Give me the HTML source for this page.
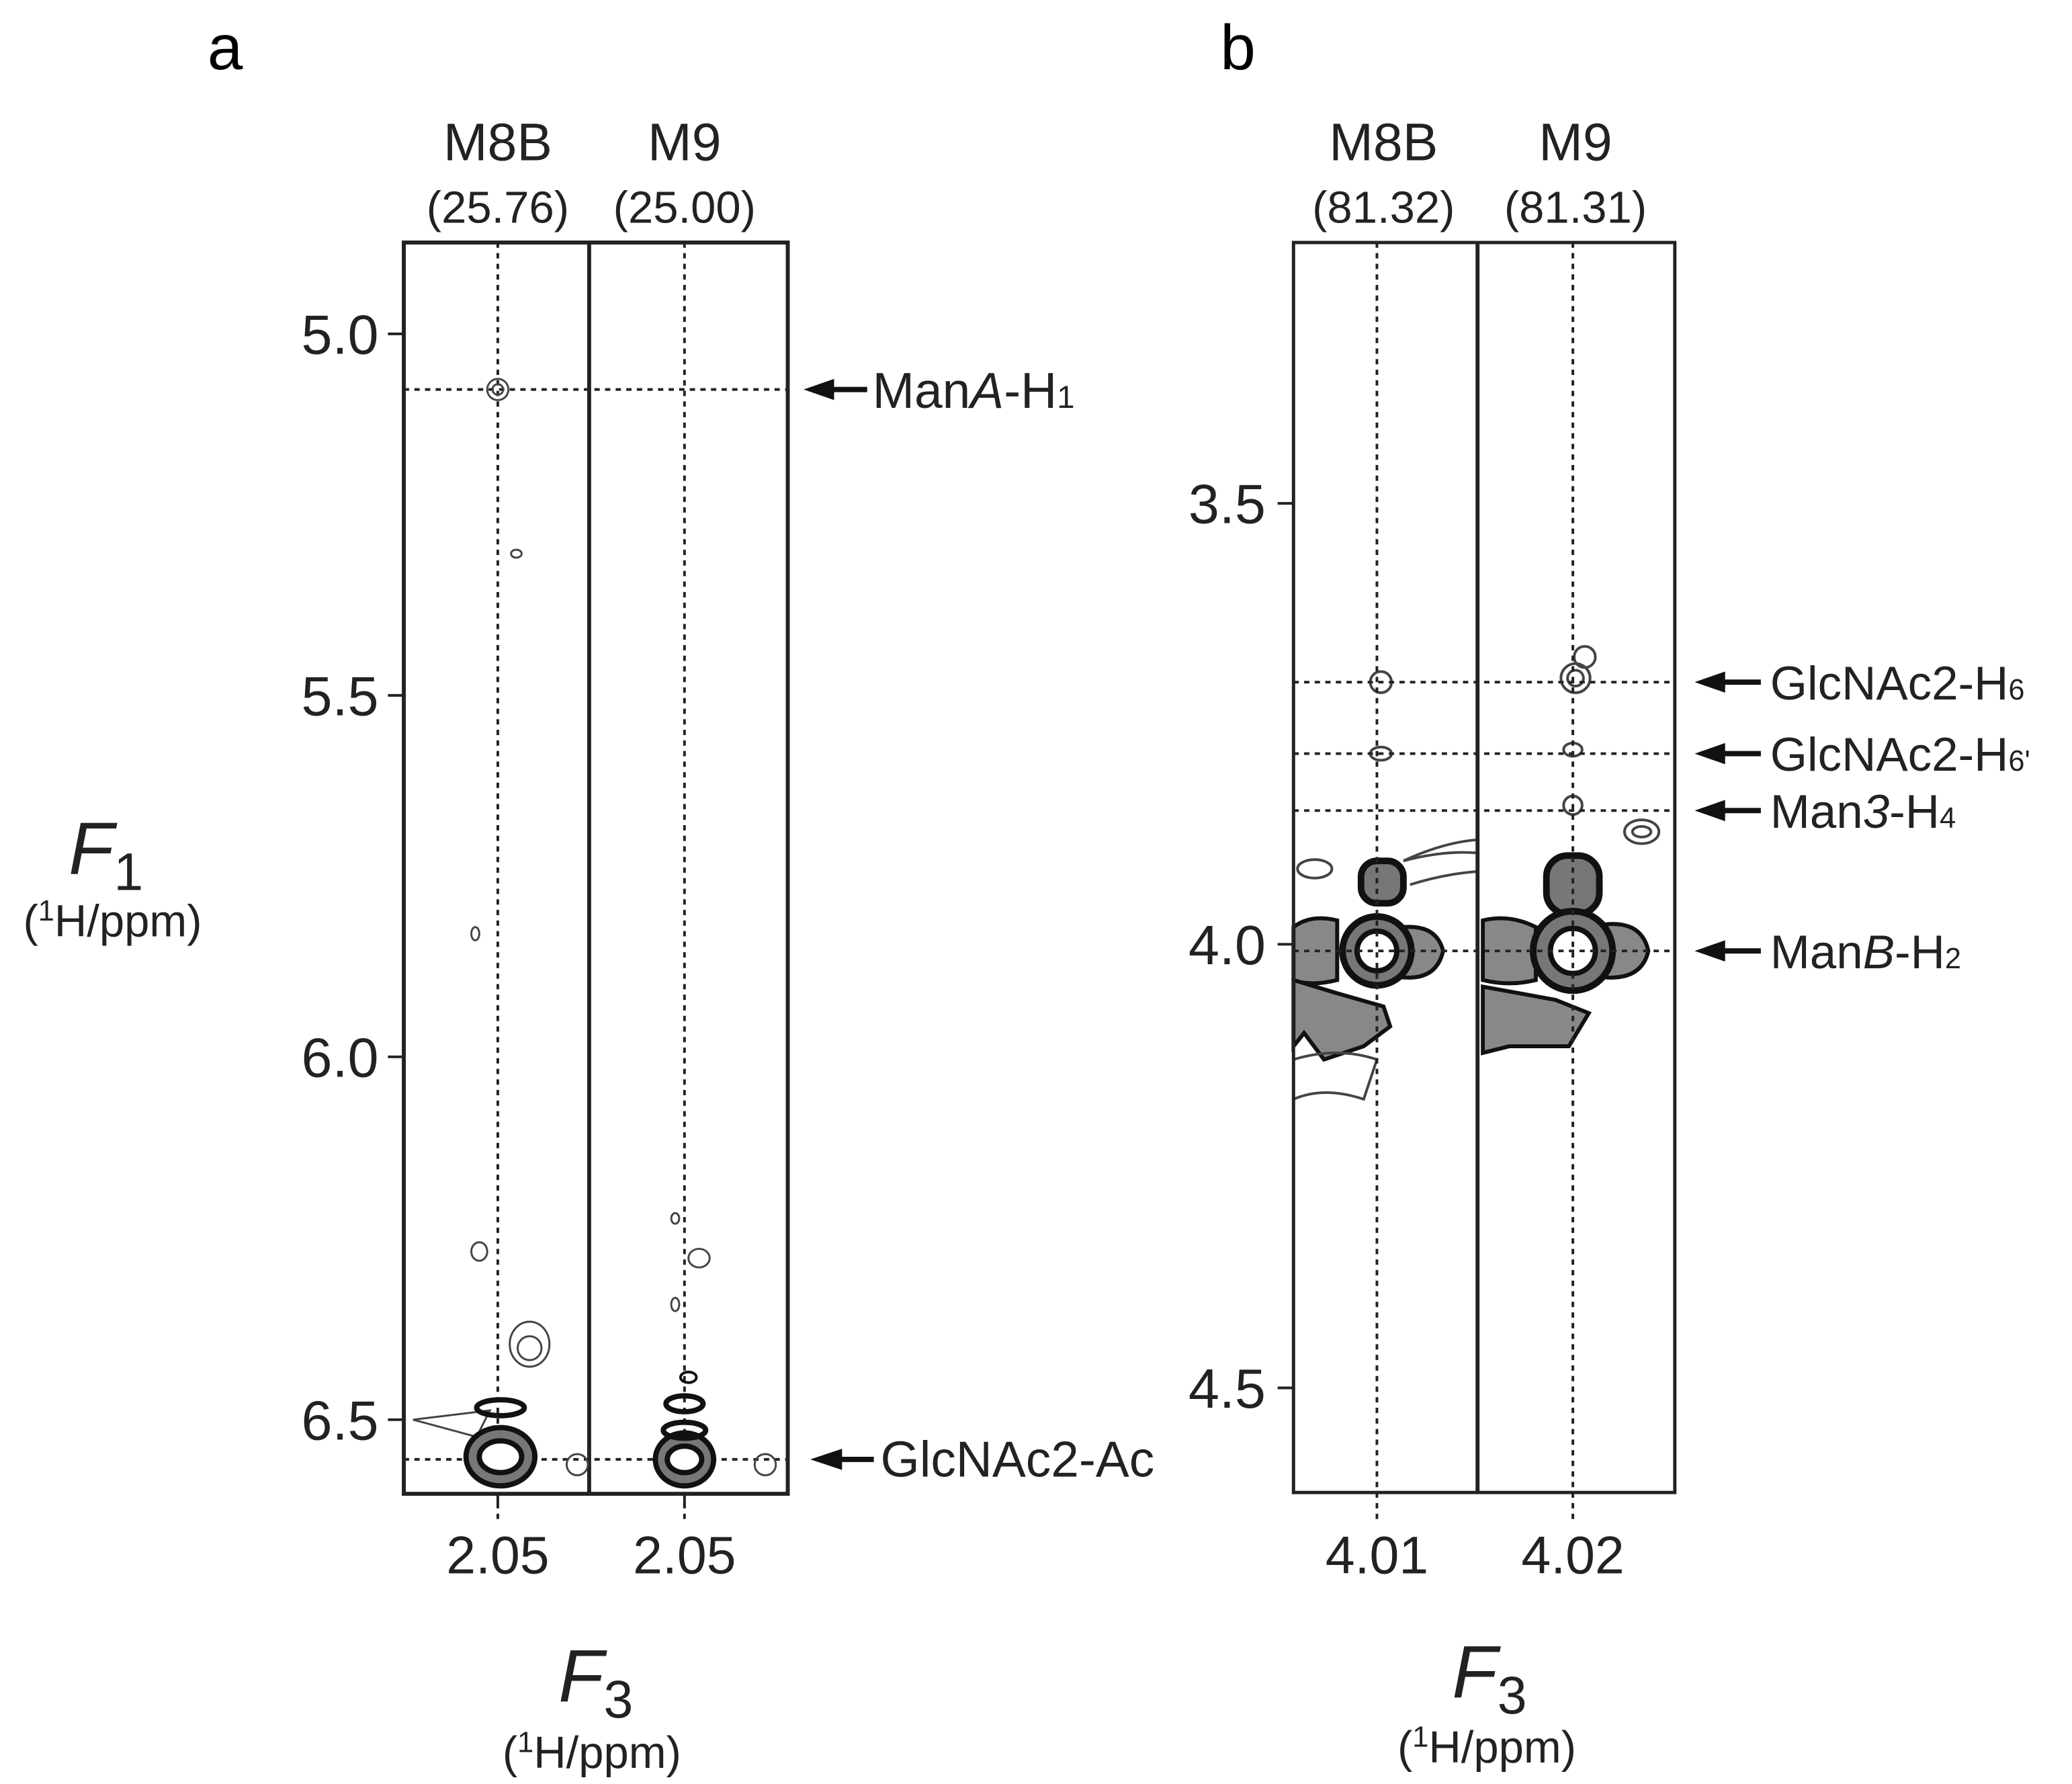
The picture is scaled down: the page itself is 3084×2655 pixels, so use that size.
<!DOCTYPE html>
<html><head><style>html,body{margin:0;padding:0;background:#fff}svg{display:block}</style></head>
<body>
<svg width="3084" height="2655" viewBox="0 0 1565 1347" xmlns="http://www.w3.org/2000/svg" font-family="Liberation Sans, sans-serif">
<rect width="1565" height="1347" fill="#fff"/>
<text x="170" y="52" font-size="48" text-anchor="middle">a</text>
<text x="935" y="52" font-size="48" text-anchor="middle">b</text>
<g font-size="40" text-anchor="middle" fill="#222">
<text x="376" y="121">M8B</text><text x="376" y="168" font-size="34">(25.76)</text>
<text x="517" y="121">M9</text><text x="517" y="168" font-size="34">(25.00)</text>
<text x="1045" y="121">M8B</text><text x="1045" y="168" font-size="34">(81.32)</text>
<text x="1190" y="121">M9</text><text x="1190" y="168" font-size="34">(81.31)</text>
</g>
<rect x="305" y="183" width="290" height="945" fill="none" stroke="#222" stroke-width="3"/>
<line x1="445" y1="183" x2="445" y2="1128" stroke="#222" stroke-width="3"/>
<g stroke="#222" stroke-width="2" stroke-dasharray="4,4">
<line x1="376" y1="183" x2="376" y2="1148"/><line x1="517" y1="183" x2="517" y2="1148"/>
<line x1="305" y1="294" x2="595" y2="294"/><line x1="305" y1="1102" x2="595" y2="1102"/>
</g>
<g stroke="#222" stroke-width="2">
<line x1="293" y1="252" x2="305" y2="252"/><line x1="293" y1="525" x2="305" y2="525"/>
<line x1="293" y1="798" x2="305" y2="798"/><line x1="293" y1="1072" x2="305" y2="1072"/>
<line x1="376" y1="1128" x2="376" y2="1138"/><line x1="517" y1="1128" x2="517" y2="1138"/>
</g>
<g font-size="42" text-anchor="end" fill="#222">
<text x="286" y="267">5.0</text><text x="286" y="540">5.5</text><text x="286" y="813">6.0</text><text x="286" y="1087">6.5</text>
</g>
<g font-size="40" text-anchor="middle" fill="#222">
<text x="376" y="1188">2.05</text><text x="517" y="1188">2.05</text>
</g>
<g stroke="#111" stroke-width="4"><line x1="625" y1="294" x2="655" y2="294"/><line x1="632" y1="1102" x2="660" y2="1102"/></g>
<polygon points="607,294 630,286 630,302" fill="#111"/>
<polygon points="612,1102 636,1094 636,1110" fill="#111"/>
<text x="659" y="308" font-size="38" fill="#222">Man<tspan font-style="italic">A</tspan>-H<tspan font-size="24">1</tspan></text>
<text x="665" y="1115" font-size="38" fill="#222">GlcNAc2-Ac</text>
<g fill="none" stroke="#444" stroke-width="1.5">
<circle cx="376" cy="294" r="8"/><circle cx="376" cy="294" r="4"/>
<ellipse cx="390" cy="418" rx="4" ry="3"/>
<ellipse cx="359" cy="705" rx="3" ry="5"/>
<ellipse cx="362" cy="945" rx="6" ry="7"/>
<ellipse cx="400" cy="1015" rx="15" ry="17"/><ellipse cx="400" cy="1018" rx="9" ry="9"/>
<ellipse cx="510" cy="920" rx="3" ry="4"/><ellipse cx="528" cy="950" rx="8" ry="7"/><ellipse cx="510" cy="985" rx="3" ry="5"/>
<ellipse cx="578" cy="1106" rx="8" ry="8"/><ellipse cx="436" cy="1106" rx="8" ry="8"/>
<path d="M312 1072 L370 1065 L360 1085 Z"/>
</g>
<g fill="#777" stroke="#111" stroke-width="4">
<ellipse cx="378" cy="1100" rx="26" ry="22"/>
<ellipse cx="517" cy="1102" rx="22" ry="20"/>
</g>
<g fill="none" stroke="#111" stroke-width="4">
<ellipse cx="378" cy="1100" rx="16" ry="12" fill="#fff"/>
<ellipse cx="378" cy="1063" rx="18" ry="6"/>
<ellipse cx="517" cy="1102" rx="13" ry="10" fill="#fff"/>
<ellipse cx="517" cy="1060" rx="14" ry="6"/><ellipse cx="517" cy="1080" rx="16" ry="6"/>
<ellipse cx="520" cy="1040" rx="6" ry="4" stroke-width="2"/>
</g>
<text x="80" y="660" font-size="56" font-style="italic" text-anchor="middle" fill="#222">F<tspan font-size="40" font-style="normal" dy="12">1</tspan></text>
<text x="85" y="707" font-size="34" text-anchor="middle" fill="#222">(<tspan font-size="22" dy="-12">1</tspan><tspan dy="12">H/ppm)</tspan></text>
<text x="450" y="1285" font-size="56" font-style="italic" text-anchor="middle" fill="#222">F<tspan font-size="40" font-style="normal" dy="12">3</tspan></text>
<text x="447" y="1335" font-size="34" text-anchor="middle" fill="#222">(<tspan font-size="22" dy="-12">1</tspan><tspan dy="12">H/ppm)</tspan></text>
<!-- Panel b -->
<g fill="#888" stroke="#111" stroke-width="3">
<path d="M977 700 Q990 690 1010 695 L1010 740 Q990 745 977 740 Z"/>
<path d="M977 740 L1010 750 L1045 760 L1050 775 L1030 790 L1000 800 L985 780 L977 790 Z"/>
<path d="M1120 745 L1175 755 L1200 765 L1185 790 L1140 790 L1120 795 Z"/>
<path d="M1120 695 Q1140 690 1160 700 L1160 740 Q1140 745 1120 740 Z"/>
<path d="M1212 698 Q1240 695 1245 718 Q1240 740 1212 738 Z"/>
<path d="M1060 700 Q1085 698 1090 718 Q1085 740 1060 738 Z"/>
</g>
<g fill="#777" stroke="#111" stroke-width="5">
<rect x="1028" y="650" width="32" height="32" rx="12"/>
<circle cx="1040" cy="718" r="26"/>
<rect x="1168" y="646" width="40" height="44" rx="16"/>
<circle cx="1188" cy="718" r="30"/>
</g>
<g fill="#fff" stroke="#111" stroke-width="4">
<circle cx="1040" cy="718" r="15"/>
<circle cx="1188" cy="718" r="17"/>
</g>
<g fill="none" stroke="#444" stroke-width="2">
<path d="M1060 650 Q1090 636 1116 634 L1116 658 Q1090 660 1065 668"/>
<path d="M1060 650 Q1090 642 1116 644"/>
<path d="M977 800 Q1010 790 1040 800 L1030 830 Q1000 820 977 830"/>
<circle cx="1043" cy="515" r="8"/><ellipse cx="1043" cy="569" rx="8" ry="5"/>
<circle cx="1190" cy="512" r="11"/><circle cx="1190" cy="512" r="6"/><ellipse cx="1197" cy="496" rx="8" ry="8"/>
<ellipse cx="1188" cy="566" rx="7" ry="5"/><circle cx="1188" cy="608" r="7"/>
<ellipse cx="1240" cy="628" rx="13" ry="9"/><ellipse cx="1240" cy="628" rx="7" ry="4"/>
<ellipse cx="993" cy="656" rx="13" ry="7"/>
</g>
<rect x="977" y="183" width="288" height="944" fill="none" stroke="#222" stroke-width="2.5"/>
<line x1="1116" y1="183" x2="1116" y2="1127" stroke="#222" stroke-width="3"/>
<g stroke="#222" stroke-width="2" stroke-dasharray="4,4">
<line x1="1040" y1="183" x2="1040" y2="1148"/><line x1="1188" y1="183" x2="1188" y2="1148"/>
<line x1="977" y1="515" x2="1265" y2="515"/><line x1="977" y1="569" x2="1265" y2="569"/>
<line x1="977" y1="612" x2="1265" y2="612"/><line x1="977" y1="718" x2="1265" y2="718"/>
</g>
<g stroke="#222" stroke-width="2">
<line x1="965" y1="380" x2="977" y2="380"/><line x1="965" y1="713" x2="977" y2="713"/><line x1="965" y1="1048" x2="977" y2="1048"/>
</g>
<g font-size="42" text-anchor="end" fill="#222">
<text x="956" y="395">3.5</text><text x="956" y="728">4.0</text><text x="956" y="1063">4.5</text>
</g>
<g font-size="40" text-anchor="middle" fill="#222">
<text x="1040" y="1188">4.01</text><text x="1188" y="1188">4.02</text>
</g>
<g stroke="#111" stroke-width="4">
<line x1="1300" y1="515" x2="1330" y2="515"/><line x1="1300" y1="569" x2="1330" y2="569"/>
<line x1="1300" y1="612" x2="1330" y2="612"/><line x1="1300" y1="718" x2="1330" y2="718"/>
</g>
<g fill="#111">
<polygon points="1280,515 1303,507 1303,523"/><polygon points="1280,569 1303,561 1303,577"/>
<polygon points="1280,612 1303,604 1303,620"/><polygon points="1280,718 1303,710 1303,726"/>
</g>
<g font-size="36" fill="#222">
<text x="1337" y="528">GlcNAc2-H<tspan font-size="22">6</tspan></text>
<text x="1337" y="582">GlcNAc2-H<tspan font-size="22">6'</tspan></text>
<text x="1337" y="625">Man<tspan font-style="italic">3</tspan>-H<tspan font-size="22">4</tspan></text>
<text x="1337" y="731">Man<tspan font-style="italic">B</tspan>-H<tspan font-size="22">2</tspan></text>
</g>
<text x="1125" y="1282" font-size="56" font-style="italic" text-anchor="middle" fill="#222">F<tspan font-size="40" font-style="normal" dy="12">3</tspan></text>
<text x="1123" y="1331" font-size="34" text-anchor="middle" fill="#222">(<tspan font-size="22" dy="-12">1</tspan><tspan dy="12">H/ppm)</tspan></text>
</svg>
</body></html>
